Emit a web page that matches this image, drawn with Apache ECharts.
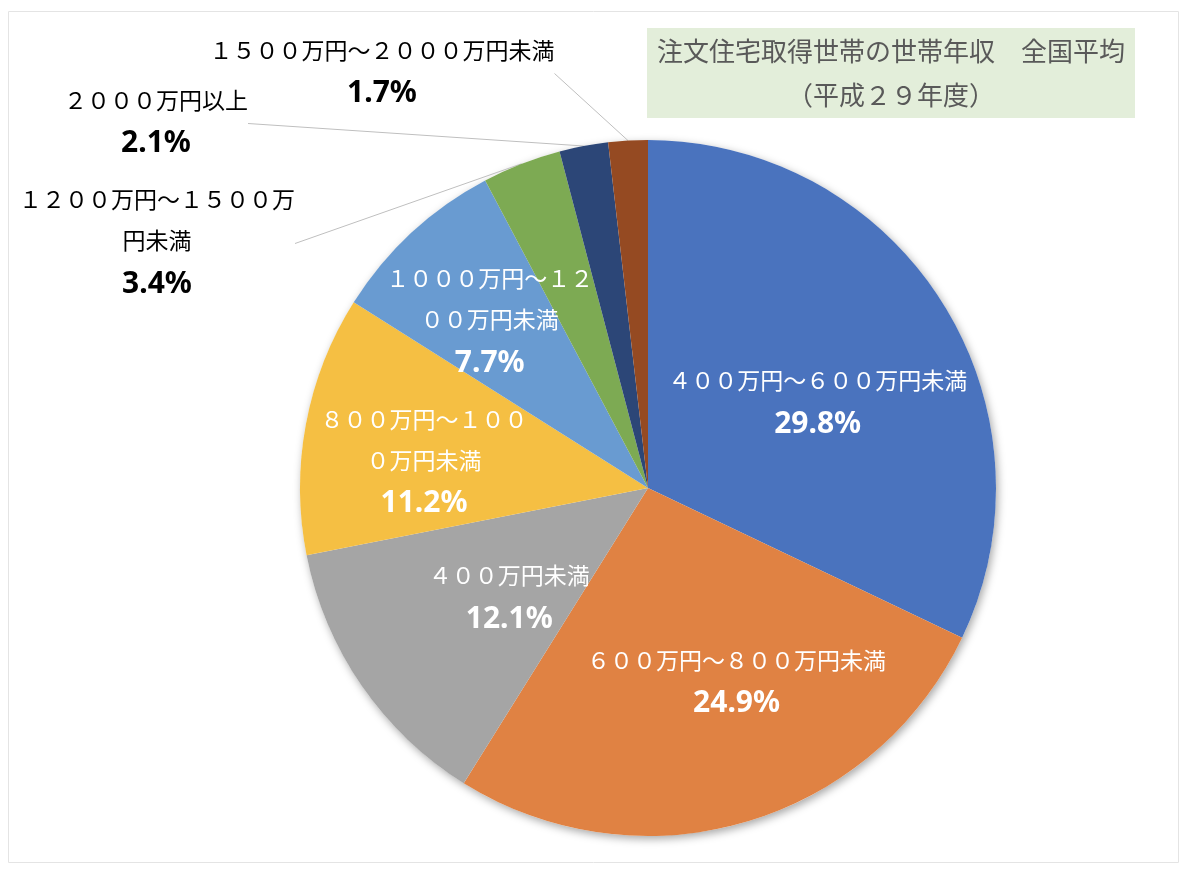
<!DOCTYPE html>
<html>
<head>
<meta charset="utf-8">
<script src="https://cdn.jsdelivr.net/npm/echarts@6.0.0/dist/echarts.min.js"></script>
<style>
html, body { margin: 0; padding: 0; background: #fff; }
#main { width: 1190px; height: 876px; }
</style>
</head>
<body>
<div id="main"></div>
<script>
// 注文住宅取得世帯の世帯年収（平成29年度）
const categories = [
    '４００万円～６００万円未満',
    '６００万円～８００万円未満',
    '４００万円未満',
    '８００万円～１０００万円未満',
    '１０００万円～１２００万円未満',
    '１２００万円～１５００万円未満',
    '２０００万円以上',
    '１５００万円～２０００万円未満'
];
const shares = [29.8, 24.9, 12.1, 11.2, 7.7, 3.4, 2.1, 1.7];

const sliceColors = ['#4A73BE', '#E08243', '#A5A5A5', '#F5BF43', '#699BD1', '#7DAA53', '#2C4677', '#954A22'];

const CX = 648, CY = 488, R = 348;
const cjk = "'Noto Sans CJK JP', sans-serif";

// where the name wraps (chars on first line), 0 = no wrap
const wrapAt = [0, 0, 0, 9, 9, 12, 0, 0];
// inside labels: nudge from the default mid-radius spot (px)
const insideShift = [[20, 10], [39, 25], [7, 10], [-50, 7], [-38, -36]];
// outside labels: centre of text block
const outsideAt = { 5: [157, 243], 6: [156, 123], 7: [382, 73] };

let chartDom = document.getElementById('main');
let myChart = echarts.init(chartDom);
let option;

const pieData = categories.map(function (name, i) {
    const item = { name: name, value: shares[i], itemStyle: { color: sliceColors[i] } };
    if (outsideAt[i]) {
        item.label = { position: 'outside', color: '#000' };
        item.labelLine = { show: true };
    }
    return item;
});

option = {
    animation: false,
    title: {
        text: '注文住宅取得世帯の世帯年収　全国平均\n（平成２９年度）',
        left: 881,
        top: 28,
        textAlign: 'center',
        backgroundColor: '#E3EEDA',
        padding: [1, 10],
        textStyle: {
            fontFamily: cjk,
            fontSize: 26,
            fontWeight: 'normal',
            color: '#595959',
            lineHeight: 44
        }
    },
    graphic: [
        {
            type: 'rect',
            shape: { x: 8.5, y: 11.5, width: 1170, height: 851 },
            style: { fill: 'none', stroke: '#e4e4e4', lineWidth: 1 },
            silent: true
        }
    ],
    series: [
        {
            // soft shadow under the whole pie
            type: 'pie',
            center: [CX, CY],
            radius: R,
            silent: true,
            z: 1,
            label: { show: false },
            labelLine: { show: false },
            itemStyle: {
                color: '#fff',
                shadowBlur: 8,
                shadowColor: 'rgba(0,0,0,0.35)',
                shadowOffsetX: 2,
                shadowOffsetY: 3
            },
            data: [{ value: 1 }]
        },
        {
            type: 'pie',
            center: [CX, CY],
            radius: R,
            startAngle: 90,
            clockwise: true,
            z: 2,
            avoidLabelOverlap: false,
            label: {
                show: true,
                position: 'inside',
                color: '#fff',
                formatter: function (p) {
                    const n = wrapAt[p.dataIndex];
                    let txt = '{n|' + p.name + '}';
                    if (n) {
                        txt = '{n|' + p.name.slice(0, n) + '}\n{n|' + p.name.slice(n) + '}';
                    }
                    return txt + '\n{p|' + p.value.toFixed(1) + '%}';
                },
                rich: {
                    n: { fontFamily: cjk, fontSize: 23, lineHeight: 41 },
                    p: { fontFamily: "'Noto Sans', sans-serif", fontSize: 30, fontWeight: 'bold', lineHeight: 46 }
                }
            },
            labelLine: {
                show: false,
                length: 0,
                length2: 0,
                smooth: false,
                lineStyle: { color: '#BFBFBF', width: 1 }
            },
            labelLayout: function (p) {
                const i = p.dataIndex;
                if (outsideAt[i]) {
                    return { x: outsideAt[i][0], y: outsideAt[i][1], align: 'center', verticalAlign: 'middle' };
                }
                return { dx: insideShift[i][0], dy: insideShift[i][1] };
            },
            emphasis: { disabled: true },
            data: pieData
        }
    ]
};

option && myChart.setOption(option);
</script>
</body>
</html>
